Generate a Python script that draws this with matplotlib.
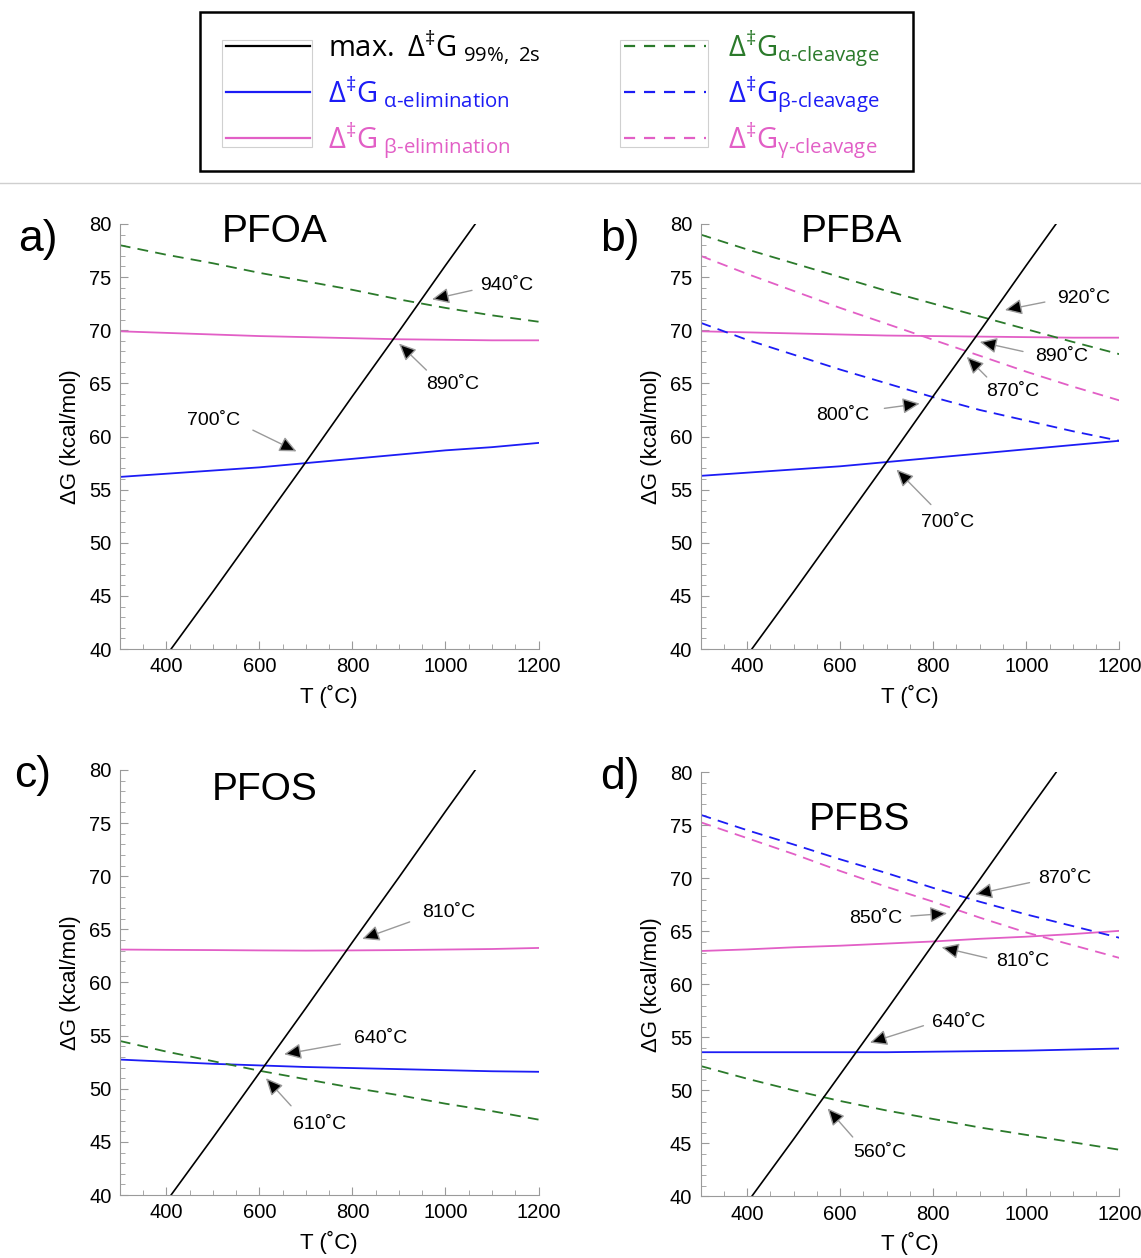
import matplotlib
matplotlib.use('Agg')
import matplotlib.pyplot as plt
from matplotlib.lines import Line2D
from matplotlib.patches import Rectangle
from matplotlib.ticker import MultipleLocator

plt.rcParams['font.family'] = ['Liberation Sans', 'DejaVu Sans']
plt.rcParams['mathtext.fontset'] = 'custom'
plt.rcParams['mathtext.rm'] = 'Open Sans'
plt.rcParams['mathtext.it'] = 'Open Sans:italic'
plt.rcParams['mathtext.bf'] = 'Open Sans:bold'

BLUE = '#1c1cf5'
PINK = '#e25fc6'
GREEN = '#2b7a2b'
GRAY = '#9a9a9a'

# max. dG (99 %, 2 s) -- same black line in all panels
T_max = [410, 500, 600, 700, 800, 900, 1000, 1064]
G_max = [40.0, 45.4, 51.5, 57.6, 63.8, 69.9, 76.1, 80.0]

# temperature grid for the barrier curves (C)
T = [300, 400, 500, 600, 700, 800, 900, 1000, 1100, 1200]

# a) PFOA
a_elim_alpha = [56.2, 56.5, 56.8, 57.1, 57.5, 57.9, 58.3, 58.7, 59.0, 59.4]
a_elim_beta = [69.9, 69.75, 69.6, 69.45, 69.35, 69.25, 69.15, 69.1, 69.05, 69.05]
a_cleave_alpha = [78.0, 77.1, 76.3, 75.4, 74.6, 73.8, 72.9, 72.1, 71.4, 70.8]

# b) PFBA
b_elim_alpha = [56.3, 56.6, 56.9, 57.2, 57.6, 58.0, 58.4, 58.8, 59.2, 59.6]
b_elim_beta = [69.9, 69.8, 69.7, 69.6, 69.5, 69.45, 69.4, 69.35, 69.3, 69.3]
b_cleave_alpha = [79.0, 77.6, 76.3, 75.0, 73.7, 72.5, 71.3, 70.1, 68.9, 67.75]
b_cleave_beta = [70.7, 69.1, 67.7, 66.3, 65.0, 63.7, 62.5, 61.5, 60.5, 59.6]
b_cleave_gamma = [77.0, 75.3, 73.7, 72.1, 70.6, 69.1, 67.6, 66.1, 64.7, 63.4]

# c) PFOS
c_elim_alpha = [52.75, 52.55, 52.35, 52.2, 52.05, 51.95, 51.85, 51.75, 51.65, 51.6]
c_elim_beta = [63.1, 63.07, 63.05, 63.02, 63.0, 63.02, 63.05, 63.1, 63.15, 63.25]
c_cleave_alpha = [54.5, 53.5, 52.6, 51.7, 50.9, 50.1, 49.4, 48.6, 47.9, 47.1]

# d) PFBS
d_elim_alpha = [53.6, 53.6, 53.6, 53.6, 53.6, 53.65, 53.7, 53.75, 53.85, 53.95]
d_elim_beta = [63.15, 63.3, 63.5, 63.65, 63.85, 64.05, 64.3, 64.5, 64.75, 65.05]
d_cleave_alpha = [52.3, 51.1, 50.0, 49.0, 48.1, 47.3, 46.5, 45.8, 45.1, 44.4]
d_cleave_beta = [76.0, 74.55, 73.2, 71.8, 70.5, 69.1, 67.8, 66.6, 65.5, 64.4]
d_cleave_gamma = [75.3, 73.8, 72.3, 70.7, 69.2, 67.8, 66.3, 64.9, 63.7, 62.5]

# crossing labels: (text, text pos, arrow tail, arrow head) in data units
a_notes = [('940˚C', (1132, 74.2), (1057, 73.75), (971, 72.9)),
           ('890˚C', (1016, 64.9), (959, 66.25), (900, 68.75)),
           ('700˚C', (502, 61.5), (586, 60.6), (680, 58.6))]
b_notes = [('920˚C', (1124, 73.0), (1040, 72.65), (954, 71.9)),
           ('890˚C', (1075, 67.5), (993, 68.0), (900, 68.9)),
           ('870˚C', (971, 64.2), (915, 65.6), (872, 67.5)),
           ('800˚C', (606, 62.0), (695, 62.65), (771, 63.1)),
           ('700˚C', (830, 51.9), (795, 53.6), (721, 56.9))]
c_notes = [('810˚C', (1006, 66.6), (923, 65.7), (821, 64.1)),
           ('640˚C', (861, 54.7), (774, 54.2), (653, 53.25)),
           ('610˚C', (729, 46.6), (668, 48.4), (614, 51.0))]
d_notes = [('870˚C', (1083, 70.0), (1007, 69.6), (890, 68.5)),
           ('850˚C', (676, 66.2), (752, 66.45), (830, 66.7)),
           ('810˚C', (993, 62.2), (915, 62.5), (818, 63.5)),
           ('640˚C', (855, 56.4), (779, 56.1), (664, 54.5)),
           ('560˚C', (686, 44.1), (627, 45.6), (573, 48.3))]

W, H = 1141, 1258
fig = plt.figure(figsize=(W / 100, H / 100), dpi=100)


def fx(x):
    return x / W


def fy(y):
    return 1 - y / H


panels = [
    ('a)', 'PFOA', [0.105, 0.484, 0.367, 0.338], (0.37, 0.981), (38, 240),
     [(a_elim_alpha, BLUE, '-'), (a_elim_beta, PINK, '-'), (a_cleave_alpha, GREEN, '--')], a_notes),
    ('b)', 'PFBA', [0.614, 0.484, 0.367, 0.338], (0.36, 0.981), (620, 240),
     [(b_elim_alpha, BLUE, '-'), (b_elim_beta, PINK, '-'), (b_cleave_alpha, GREEN, '--'),
      (b_cleave_beta, BLUE, '--'), (b_cleave_gamma, PINK, '--')], b_notes),
    ('c)', 'PFOS', [0.105, 0.050, 0.367, 0.338], (0.346, 0.953), (33, 776),
     [(c_elim_alpha, BLUE, '-'), (c_elim_beta, PINK, '-'), (c_cleave_alpha, GREEN, '--')], c_notes),
    ('d)', 'PFBS', [0.614, 0.049, 0.367, 0.337], (0.38, 0.887), (620, 778),
     [(d_elim_alpha, BLUE, '-'), (d_elim_beta, PINK, '-'), (d_cleave_alpha, GREEN, '--'),
      (d_cleave_beta, BLUE, '--'), (d_cleave_gamma, PINK, '--')], d_notes),
]

for letter, name, rect, tpos, lpos, curves, notes in panels:
    ax = fig.add_axes(rect)
    for vals, col, ls in curves:
        ax.plot(T, vals, color=col, ls=ls, lw=1.3, dashes=(6, 4) if ls == '--' else (None, None))
    ax.plot(T_max, G_max, color='black', lw=1.2)

    for txt, tp, tail, head in notes:
        ax.annotate('', xy=head, xytext=tail,
                    arrowprops=dict(arrowstyle='-|>,head_length=0.65,head_width=0.3',
                                    fc='black', ec=GRAY, lw=1.0, shrinkA=0, shrinkB=0,
                                    mutation_scale=16))
        ax.text(tp[0], tp[1], txt, fontsize=14, ha='center', va='center')

    ax.set_xlim(300, 1200)
    ax.set_ylim(40, 80)
    ax.set_xticks([400, 600, 800, 1000, 1200])
    ax.set_yticks(range(40, 81, 5))
    ax.xaxis.set_minor_locator(MultipleLocator(50))
    ax.yaxis.set_minor_locator(MultipleLocator(1))
    ax.tick_params(which='both', direction='in', color=GRAY, labelsize=14.5, pad=6)
    ax.tick_params(which='major', length=6)
    ax.tick_params(which='minor', length=3.5)
    for s in ['top', 'right']:
        ax.spines[s].set_visible(False)
    for s in ['left', 'bottom']:
        ax.spines[s].set_color(GRAY)
    ax.set_xlabel('T (˚C)', fontsize=16, labelpad=6)
    ax.set_ylabel('ΔG (kcal/mol)', fontsize=16, labelpad=6)
    ax.text(tpos[0], tpos[1], name, transform=ax.transAxes, fontsize=28,
            ha='center', va='center', clip_on=False)
    fig.text(fx(lpos[0]), fy(lpos[1]), letter, fontsize=32, ha='center', va='center')

# separator under the legend
fig.add_artist(Line2D([0, 1], [fy(183), fy(183)], color='#cfcfcf', lw=1))

# legend box
fig.add_artist(Rectangle((fx(200), fy(171)), fx(913) - fx(200), fy(12) - fy(171),
                         fill=False, ec='black', lw=1.8))
for x0, x1 in [(222, 312), (620, 708)]:
    fig.add_artist(Rectangle((fx(x0), fy(147)), fx(x1) - fx(x0), fy(40) - fy(147),
                             fill=False, ec='#d0d0d0', lw=0.8))

leg_left = [('black', '-', r'$\mathrm{max.\ Δ^{‡}G}_{\ \mathrm{99\%,\ 2s}}$'),
            (BLUE, '-', r'$\mathrm{Δ^{‡}G}_{\ \text{α-elimination}}$'),
            (PINK, '-', r'$\mathrm{Δ^{‡}G}_{\ \text{β-elimination}}$')]
leg_right = [(GREEN, '--', r'$\mathrm{Δ^{‡}G}_{\text{α-cleavage}}$'),
             (BLUE, '--', r'$\mathrm{Δ^{‡}G}_{\text{β-cleavage}}$'),
             (PINK, '--', r'$\mathrm{Δ^{‡}G}_{\text{γ-cleavage}}$')]
row_y = [46, 92, 138]

for col_x, items in [((226, 310, 328), leg_left), ((624, 706, 728), leg_right)]:
    for y, (c, ls, label) in zip(row_y, items):
        ln = Line2D([fx(col_x[0]), fx(col_x[1])], [fy(y), fy(y)], color=c, lw=1.6)
        if ls == '--':
            ln.set_dashes((5, 4))
        fig.add_artist(ln)
        fig.text(fx(col_x[2]), fy(y + 11), label, color=c, fontsize=21,
                 ha='left', va='baseline')

fig.savefig('out.png', dpi=100)
